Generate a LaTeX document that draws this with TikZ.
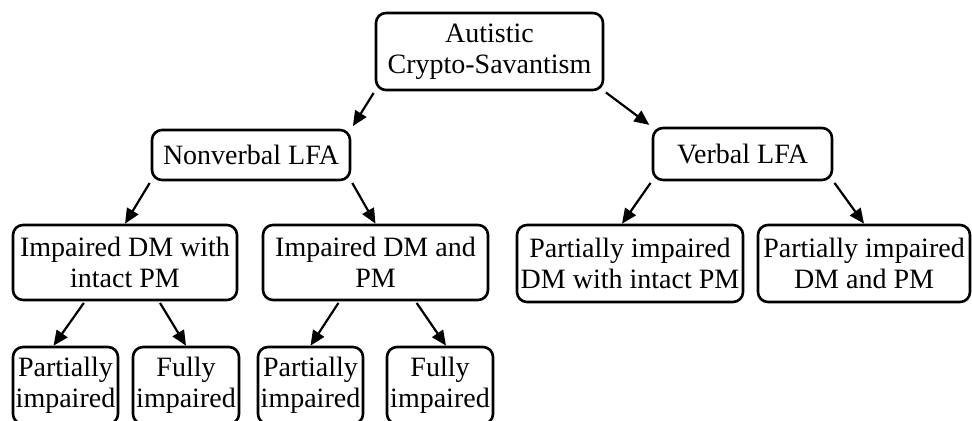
\documentclass[tikz,border=0pt]{standalone}
\usepackage{fontspec}
\setmainfont{Liberation Serif}
\usetikzlibrary{arrows.meta}

\begin{document}
\begin{tikzpicture}[
  x=0.5pt,y=-0.5pt,
  font=\fontsize{14}{15.5}\selectfont,
  box/.style={draw,rounded corners=5pt,line width=1.3pt,align=center,inner sep=1pt},
  arr/.style={-{Triangle[length=7.5pt,width=6.5pt]},line width=1.1pt,shorten <=1pt},
  ]
  \useasboundingbox (0,0) rectangle (972,421);
  % top level
  \node[box,minimum width=113.5pt,minimum height=38.5pt] (root) at (489.5,51.5) {Autistic\\Crypto-Savantism};
  % second level
  \node[box,minimum width=99pt,minimum height=25pt] (nonverbal) at (251,155) {Nonverbal LFA};
  \node[box,minimum width=89.5pt,minimum height=26pt] (verbal) at (742.5,154) {Verbal LFA};
  % third level
  \node[box,minimum width=112pt,minimum height=37.5pt] (impwith) at (125,262.5) {Impaired DM with\\intact PM};
  \node[box,minimum width=112.5pt,minimum height=37.5pt] (impand) at (375.5,262.5) {Impaired DM and\\PM};
  \node[box,minimum width=113pt,minimum height=38.5pt] (partwith) at (630,263.5) {Partially impaired\\DM with intact PM};
  \node[box,minimum width=106pt,minimum height=38.5pt] (partand) at (864,263.5) {Partially impaired\\DM and PM};
  % bottom level
  \node[box,minimum width=52.5pt,minimum height=38.5pt] (part1) at (65.5,385.5) {Partially\\impaired};
  \node[box,minimum width=53pt,minimum height=38.5pt] (full1) at (186,385.5) {Fully\\impaired};
  \node[box,minimum width=52.5pt,minimum height=38.5pt] (part2) at (310.5,385.5) {Partially\\impaired};
  \node[box,minimum width=53pt,minimum height=38.5pt] (full2) at (440,385.5) {Fully\\impaired};

  \draw[arr,shorten >=1.5pt] (root.south west) -- (nonverbal.north east);
  \draw[arr,shorten >=1.5pt] (root.south east) -- (verbal.north west);
  \draw[arr] (nonverbal.south west) -- (impwith.north);
  \draw[arr] (nonverbal.south east) -- (impand.north);
  \draw[arr] (verbal.south west) -- ([xshift=-4pt]partwith.north);
  \draw[arr] (verbal.south east) -- (partand.north);
  \draw[arr] ([xshift=-20pt]impwith.south) -- ([xshift=-6pt]part1.north);
  \draw[arr] ([xshift=17pt]impwith.south) -- (full1.north);
  \draw[arr] ([xshift=-18pt]impand.south) -- (part2.north);
  \draw[arr] ([xshift=20pt]impand.south) -- ([xshift=3pt]full2.north);
\end{tikzpicture}
\end{document}
